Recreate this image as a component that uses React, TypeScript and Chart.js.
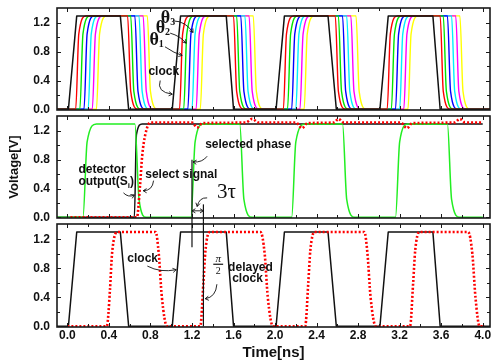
import React, { useEffect, useRef } from 'react';
import { Chart, registerables } from 'chart.js';

Chart.register(...registerables);

type Pt = [number, number];

const SANS = '"Liberation Sans", Arial, Helvetica, sans-serif';
const SERIF = '"Liberation Serif", "Times New Roman", serif';

// axis ranges: time [ns] and voltage [V]
const X_MIN = -0.1;
const X_MAX = 4.07;
const Y_MIN = -0.01;
const Y_MAX = 1.41;

const xTickLabels = [0, 0.4, 0.8, 1.2, 1.6, 2.0, 2.4, 2.8, 3.2, 3.6, 4.0];
const xMinorTicks = [0.2, 0.6, 1.0, 1.4, 1.8, 2.2, 2.6, 3.0, 3.4, 3.8];
const yTickLabels = [0, 0.4, 0.8, 1.2];
const yMinorTicks = [0.2, 0.6, 1.0];

// ---------- top panel: clock and delayed phases ----------
const clock: Pt[] = [[-0.1,0],[0.01,0],[0.09,1.3],[0.51,1.3],[0.59,0],[1.01,0],[1.09,1.3],[1.53,1.3],[1.6,0],[2.01,0],[2.09,1.3],[2.51,1.3],[2.59,0],[3.01,0],[3.09,1.3],[3.52,1.3],[3.59,0],[4.07,0]];

const phaseRed: Pt[] = [[-0.1,0],[0.08,0],[0.11,1.05],[0.18,1.3],[0.58,1.3],[0.61,0.25],[0.68,0],[1.08,0],[1.11,1.05],[1.18,1.3],[1.6,1.3],[1.63,0.25],[1.7,0],[2.08,0],[2.11,1.05],[2.18,1.3],[2.58,1.3],[2.61,0.25],[2.68,0],[3.08,0],[3.11,1.05],[3.18,1.3],[3.59,1.3],[3.62,0.25],[3.69,0],[4.07,0]];
const phaseGreen: Pt[] = [[-0.1,0],[0.12,0],[0.15,1.05],[0.22,1.3],[0.61,1.3],[0.64,0.25],[0.71,0],[1.12,0],[1.15,1.05],[1.22,1.3],[1.63,1.3],[1.66,0.25],[1.73,0],[2.12,0],[2.15,1.05],[2.22,1.3],[2.61,1.3],[2.64,0.25],[2.71,0],[3.12,0],[3.15,1.05],[3.22,1.3],[3.62,1.3],[3.65,0.25],[3.72,0],[4.07,0]];
const phaseBlue: Pt[] = [[-0.1,0],[0.16,0],[0.19,1.05],[0.26,1.3],[0.65,1.3],[0.68,0.25],[0.75,0],[1.16,0],[1.19,1.05],[1.26,1.3],[1.67,1.3],[1.7,0.25],[1.77,0],[2.16,0],[2.19,1.05],[2.26,1.3],[2.65,1.3],[2.68,0.25],[2.75,0],[3.16,0],[3.19,1.05],[3.26,1.3],[3.66,1.3],[3.69,0.25],[3.76,0],[4.07,0]];
const phaseCyan: Pt[] = [[-0.1,0],[0.2,0],[0.23,1.05],[0.3,1.3],[0.69,1.3],[0.72,0.25],[0.79,0],[1.2,0],[1.23,1.05],[1.3,1.3],[1.71,1.3],[1.74,0.25],[1.81,0],[2.2,0],[2.23,1.05],[2.3,1.3],[2.69,1.3],[2.72,0.25],[2.79,0],[3.2,0],[3.23,1.05],[3.3,1.3],[3.7,1.3],[3.73,0.25],[3.8,0],[4.07,0]];
const phaseMagenta: Pt[] = [[-0.1,0],[0.24,0],[0.27,1.05],[0.34,1.3],[0.73,1.3],[0.76,0.25],[0.83,0],[1.24,0],[1.27,1.05],[1.34,1.3],[1.75,1.3],[1.78,0.25],[1.85,0],[2.24,0],[2.27,1.05],[2.34,1.3],[2.73,1.3],[2.76,0.25],[2.83,0],[3.24,0],[3.27,1.05],[3.34,1.3],[3.74,1.3],[3.77,0.25],[3.84,0],[4.07,0]];
const phaseYellow: Pt[] = [[-0.1,0],[0.28,0],[0.31,1.05],[0.38,1.3],[0.77,1.3],[0.8,0.25],[0.87,0],[1.28,0],[1.31,1.05],[1.38,1.3],[1.79,1.3],[1.82,0.25],[1.89,0],[2.28,0],[2.31,1.05],[2.38,1.3],[2.78,1.3],[2.81,0.25],[2.88,0],[3.28,0],[3.31,1.05],[3.38,1.3],[3.78,1.3],[3.81,0.25],[3.88,0],[4.07,0]];

// ---------- middle panel ----------
const detectorOut: Pt[] = [[-0.1,0],[0.645,0],[0.665,1.15],[0.72,1.3],[4.0,1.3]];
const selectedPhase: Pt[] = [[-0.1,0],[0.15,0],[0.19,1.05],[0.28,1.3],[0.65,1.3],[0.69,0.25],[0.76,0],[1.19,0],[1.23,1.05],[1.31,1.3],[1.66,1.3],[1.7,0.25],[1.78,0],[2.16,0],[2.2,1.05],[2.29,1.3],[2.65,1.3],[2.69,0.25],[2.77,0],[3.16,0],[3.2,1.05],[3.28,1.3],[3.66,1.3],[3.7,0.25],[3.78,0],[4.0,0]];
const selectSignal: Pt[] = [[0.03,0],[0.67,0],[0.7,0.45],[0.72,0.85],[0.75,1.15],[0.8,1.32],[1.2,1.32],[1.25,1.25],[1.3,1.31],[1.72,1.32],[1.78,1.37],[1.84,1.32],[2.2,1.32],[2.26,1.24],[2.31,1.31],[2.57,1.32],[2.61,1.37],[2.66,1.32],[3.21,1.32],[3.27,1.24],[3.32,1.31],[3.73,1.32],[3.78,1.37],[3.83,1.32],[4.0,1.32]];

// ---------- bottom panel ----------
const delayedClock: Pt[] = [[0,0],[0.38,0],[0.41,0.5],[0.43,1.0],[0.48,1.3],[0.85,1.3],[0.88,1.0],[0.91,0.4],[0.96,0],[1.28,0],[1.31,0.6],[1.33,1.05],[1.37,1.3],[1.86,1.3],[1.9,1.0],[1.93,0.4],[1.98,0],[2.29,0],[2.32,0.6],[2.34,1.05],[2.38,1.3],[2.86,1.3],[2.89,1.0],[2.92,0.4],[2.97,0],[3.3,0],[3.33,0.6],[3.35,1.05],[3.39,1.3],[3.86,1.3],[3.9,1.0],[3.93,0.4],[3.97,0],[4.02,0]];

// ---------- annotations (data coordinates) ----------
const B12 = `bold 12px ${SANS}`;
const B8 = `bold 8px ${SANS}`;
const TH = `bold 18px ${SERIF}`;
const TH_SUB = `bold 10px ${SERIF}`;

type Run = [string, string, number];
type Note = { x: number; y: number; align: 'left' | 'center'; runs: Run[] };
type Curve = [number, number, number, number, number, number];
type Seg = [number, number, number, number];
type Notes = { texts: Note[]; curves: Curve[]; segs: Seg[]; dbl: [number, number, number][] };

const topNotes: Notes = {
  texts: [
    { x: 0.9, y: 1.27, align: 'left', runs: [['θ', TH, 0], ['3', TH_SUB, 4]] },
    { x: 0.85, y: 1.12, align: 'left', runs: [['θ', TH, 0], ['2', TH_SUB, 4]] },
    { x: 0.79, y: 0.96, align: 'left', runs: [['θ', TH, 0], ['1', TH_SUB, 4]] },
    { x: 0.78, y: 0.52, align: 'left', runs: [['clock', B12, 0]] },
  ],
  curves: [
    [1.02, 1.23, 1.135, 1.23, 1.21, 1.07],
    [0.99, 1.06, 1.087, 1.02, 1.144, 0.92],
    [0.94, 0.87, 1.03, 0.78, 1.105, 0.75],
    [0.894, 0.4, 0.856, 0.24, 1.01, 0.21],
  ],
  segs: [],
  dbl: [],
};

const midNotes: Notes = {
  texts: [
    { x: 0.106, y: 0.66, align: 'left', runs: [['detector', B12, 0]] },
    { x: 0.106, y: 0.49, align: 'left', runs: [['output(S', B12, 0], ['i', B8, 4], [')', B12, 0]] },
    { x: 0.75, y: 0.59, align: 'left', runs: [['select signal', B12, 0]] },
    { x: 1.327, y: 1.01, align: 'left', runs: [['selected phase', B12, 0]] },
    { x: 1.44, y: 0.35, align: 'left', runs: [['3τ', `21px ${SERIF}`, 0]] },
  ],
  curves: [
    [0.54, 0.34, 0.587, 0.27, 0.645, 0.31],
    [0.83, 0.51, 0.82, 0.37, 0.73, 0.37],
    [1.346, 0.85, 1.3, 0.76, 1.21, 0.77],
    [1.346, 0.27, 1.27, 0.28, 1.25, 0.15],
  ],
  segs: [
    [1.2, 0.8, 1.2, -0.06],
    [1.31, 0.18, 1.31, -0.06],
  ],
  dbl: [[1.2, 1.31, 0.09]],
};

const botNotes: Notes = {
  texts: [
    { x: 0.577, y: 0.93, align: 'left', runs: [['clock', B12, 0]] },
    { x: 1.452, y: 0.93, align: 'center', runs: [['π', `italic 11px ${SERIF}`, 0]] },
    { x: 1.452, y: 0.76, align: 'center', runs: [['2', `10px ${SERIF}`, 0]] },
    { x: 1.548, y: 0.81, align: 'left', runs: [['delayed', B12, 0]] },
    { x: 1.587, y: 0.65, align: 'left', runs: [['clock', B12, 0]] },
  ],
  curves: [
    [0.77, 0.83, 0.894, 0.735, 1.048, 0.78],
    [1.44, 0.58, 1.43, 0.4, 1.327, 0.38],
  ],
  segs: [
    [1.405, 0.855, 1.5, 0.855],
    [1.2, 1.45, 1.2, 1.09],
    [1.31, 1.45, 1.31, 0.0],
  ],
  dbl: [],
};

function line(data: Pt[], color: string, width: number, smooth: boolean, dash?: number[]) {
  return {
    data,
    borderColor: color,
    backgroundColor: color,
    borderWidth: width,
    pointRadius: 0,
    fill: false,
    tension: 0,
    cubicInterpolationMode: smooth ? 'monotone' : 'default',
    borderDash: dash || [],
    borderCapStyle: 'butt',
    borderJoinStyle: 'round',
  };
}

function framePlugin() {
  return {
    id: 'panelFrame',
    afterDatasetsDraw(chart: any) {
      const { ctx, chartArea: a } = chart;
      const xs = chart.scales.x;
      const ys = chart.scales.y;
      ctx.save();
      ctx.strokeStyle = '#1a1a1a';
      ctx.lineWidth = 1;
      ctx.beginPath();
      const xt = (vals: number[], len: number) =>
        vals.forEach((v) => {
          const p = Math.round(xs.getPixelForValue(v)) + 0.5;
          ctx.moveTo(p, a.bottom); ctx.lineTo(p, a.bottom - len);
          ctx.moveTo(p, a.top); ctx.lineTo(p, a.top + len);
        });
      const yt = (vals: number[], len: number) =>
        vals.forEach((v) => {
          const p = Math.round(ys.getPixelForValue(v)) + 0.5;
          ctx.moveTo(a.left, p); ctx.lineTo(a.left + len, p);
          ctx.moveTo(a.right, p); ctx.lineTo(a.right - len, p);
        });
      xt(xTickLabels, 4); xt(xMinorTicks, 3);
      yt(yTickLabels, 4); yt(yMinorTicks, 3);
      ctx.stroke();
      ctx.lineWidth = 1.6;
      ctx.strokeRect(a.left, a.top, a.right - a.left, a.bottom - a.top);
      ctx.restore();
    },
  };
}

function notesPlugin(notes: Notes) {
  return {
    id: 'panelNotes',
    afterDraw(chart: any) {
      const { ctx } = chart;
      const X = (v: number) => chart.scales.x.getPixelForValue(v);
      const Y = (v: number) => chart.scales.y.getPixelForValue(v);
      ctx.save();
      ctx.strokeStyle = '#111';
      ctx.fillStyle = '#111';
      const head = (x: number, y: number, ang: number) => {
        const L = 4, A = 0.55;
        ctx.beginPath();
        ctx.moveTo(x - L * Math.cos(ang - A), y - L * Math.sin(ang - A));
        ctx.lineTo(x, y);
        ctx.lineTo(x - L * Math.cos(ang + A), y - L * Math.sin(ang + A));
        ctx.stroke();
      };
      ctx.lineWidth = 1.2;
      notes.segs.forEach(([x1, y1, x2, y2]) => {
        ctx.beginPath(); ctx.moveTo(X(x1), Y(y1)); ctx.lineTo(X(x2), Y(y2)); ctx.stroke();
      });
      ctx.lineWidth = 0.9;
      notes.curves.forEach(([x1, y1, cx, cy, x2, y2]) => {
        ctx.beginPath();
        ctx.moveTo(X(x1), Y(y1));
        ctx.quadraticCurveTo(X(cx), Y(cy), X(x2), Y(y2));
        ctx.stroke();
        head(X(x2), Y(y2), Math.atan2(Y(y2) - Y(cy), X(x2) - X(cx)));
      });
      notes.dbl.forEach(([x1, x2, y]) => {
        ctx.beginPath(); ctx.moveTo(X(x1), Y(y)); ctx.lineTo(X(x2), Y(y)); ctx.stroke();
        head(X(x2), Y(y), 0);
        head(X(x1), Y(y), Math.PI);
      });
      ctx.textBaseline = 'middle';
      ctx.textAlign = 'left';
      notes.texts.forEach((t) => {
        let w = 0;
        t.runs.forEach(([s, f]) => { ctx.font = f; w += ctx.measureText(s).width; });
        let px = X(t.x) - (t.align === 'center' ? w / 2 : 0);
        const py = Y(t.y);
        t.runs.forEach(([s, f, dy]) => {
          ctx.font = f;
          ctx.fillText(s, px, py + dy);
          px += ctx.measureText(s).width;
        });
      });
      ctx.restore();
    },
  };
}

const tickFont = { family: SANS, size: 12, weight: 'bold' as const };
const fmt = (v: any) => Number(v).toFixed(1);

function makeChart(canvas: HTMLCanvasElement, datasets: any[], notes: Notes, pad: { top: number; bottom: number }, bottomAxis: boolean, yTitle: boolean) {
  return new Chart(canvas, {
    type: 'line',
    data: { datasets },
    options: {
      animation: false,
      responsive: false,
      events: [],
      layout: { padding: { top: pad.top, bottom: pad.bottom, left: 0, right: 3 } },
      plugins: { legend: { display: false }, tooltip: { enabled: false } },
      scales: {
        x: {
          type: 'linear',
          min: X_MIN,
          max: X_MAX,
          display: bottomAxis,
          afterBuildTicks: (s: any) => { s.ticks = xTickLabels.map((v) => ({ value: v })); },
          afterFit: (s: any) => { s.height = bottomAxis ? 33 : 0; s.paddingLeft = 0; s.paddingRight = 0; },
          grid: { display: false, drawTicks: false },
          border: { display: false },
          ticks: { font: tickFont, color: '#111', padding: 1, maxRotation: 0, autoSkip: false, callback: fmt },
          title: { display: bottomAxis, text: 'Time[ns]', color: '#111', font: { family: SANS, size: 15, weight: 'bold', lineHeight: 1 }, padding: { top: 0, bottom: 0 } },
        },
        y: {
          type: 'linear',
          min: Y_MIN,
          max: Y_MAX,
          afterBuildTicks: (s: any) => { s.ticks = yTickLabels.map((v) => ({ value: v })); },
          afterFit: (s: any) => { s.width = 57; s.paddingTop = 0; s.paddingBottom = 0; },
          grid: { display: false, drawTicks: false },
          border: { display: false },
          ticks: { font: tickFont, color: '#111', padding: 7, callback: fmt },
          title: { display: yTitle, text: 'Voltage[V]', color: '#111', font: { family: SANS, size: 13, weight: 'bold', lineHeight: 1.2 }, padding: { top: 7, bottom: 0 } },
        },
      },
    } as any,
    plugins: [framePlugin(), notesPlugin(notes)],
  });
}

export default function App() {
  const r1 = useRef<HTMLCanvasElement>(null);
  const r2 = useRef<HTMLCanvasElement>(null);
  const r3 = useRef<HTMLCanvasElement>(null);

  useEffect(() => {
    const c1 = makeChart(r1.current!, [
      line(clock, '#111111', 1.5, false),
      line(phaseRed, '#ff0000', 1.4, true),
      line(phaseGreen, '#00e600', 1.4, true),
      line(phaseBlue, '#0000ff', 1.4, true),
      line(phaseCyan, '#00f0ff', 1.4, true),
      line(phaseMagenta, '#ff00ff', 1.4, true),
      line(phaseYellow, '#ffff00', 1.4, true),
    ], topNotes, { top: 8, bottom: 3 }, false, false);
    const c2 = makeChart(r2.current!, [
      line(selectSignal, '#ff0000', 2.6, true, [2, 2]),
      line(selectedPhase, '#22ee22', 1.5, true),
      line(detectorOut, '#111111', 1.5, true),
    ], midNotes, { top: 3, bottom: 3 }, false, true);
    const c3 = makeChart(r3.current!, [
      line(delayedClock, '#ff0000', 2.6, true, [2, 2]),
      line(clock, '#111111', 1.5, false),
    ], botNotes, { top: 3, bottom: 0 }, true, false);
    return () => { c1.destroy(); c2.destroy(); c3.destroy(); };
  }, []);

  const cs = (top: number, h: number): React.CSSProperties => ({ position: 'absolute', left: 0, top, width: 493, height: h });
  return (
    <div style={{ position: 'fixed', left: 0, top: 0, width: 493, height: 360, background: '#fff' }}>
      <canvas ref={r1} width={493} height={113} style={cs(0, 113)} />
      <canvas ref={r2} width={493} height={108} style={cs(113, 108)} />
      <canvas ref={r3} width={493} height={139} style={cs(221, 139)} />
    </div>
  );
}
